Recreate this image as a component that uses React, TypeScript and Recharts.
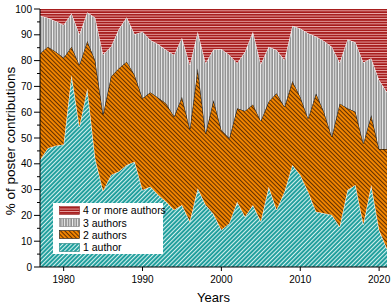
import React from 'react';
import { AreaChart, Area, XAxis, YAxis, Label } from 'recharts';

// share of poster contributions per year (%)
const years = [
    1977, 1978, 1979, 1980, 1981, 1982, 1983, 1984, 1985, 1986, 1987, 1988, 1989, 1990, 1991,
    1992, 1993, 1994, 1995, 1996, 1997, 1998, 1999, 2000, 2001, 2002, 2003, 2004, 2005, 2006,
    2007, 2008, 2009, 2010, 2011, 2012, 2013, 2014, 2015, 2016, 2017, 2018, 2019, 2020, 2021,
];
const oneAuthor = [
    41.5, 46, 47, 47.5, 74.4, 54.4, 69.2, 42, 29.5, 35.7, 37, 39.5, 40.8, 29.8, 31.1,
    27.9, 25.3, 22.1, 24, 17.6, 30.5, 24, 20.5, 14.3, 16.9, 25.3, 19.5, 24, 17.6, 31.1,
    22.1, 29.2, 39.5, 35.7, 29.2, 21.4, 20.8, 20.2, 15.6, 29.8, 31.8, 16.5, 31.8, 14.3, 7,
];
const twoAuthors = [
    41.3, 39.4, 36.4, 33.6, 11, 23.9, 18.4, 38, 29.7, 38.1, 40, 40.1, 33.6, 35.6, 36.6,
    37.7, 38.1, 36.2, 42, 35.9, 46.5, 27.8, 44.2, 38.8, 33, 36.2, 41, 39, 39, 33,
    45.2, 32.9, 32.6, 30.3, 28.4, 45.9, 39.4, 30.3, 47.8, 31.7, 28.4, 31.4, 27.1, 31.4, 38.7,
];
const threeAuthors = [
    14.6, 11.2, 11.9, 12.7, 12.9, 11.9, 11.1, 16.6, 23.2, 11.6, 15.2, 17.2, 15.8, 25.8, 20.3,
    20.7, 20.7, 23.9, 22.9, 24.8, 14.2, 27.2, 19.6, 31.4, 32.3, 17.5, 22.9, 28.2, 22, 21.3,
    16.8, 18.1, 21.4, 26.4, 33, 22, 27.4, 34.9, 15.9, 26.7, 26.9, 31.4, 22, 26.8, 22,
];
const fourPlusAuthors = [
    2.6, 3.4, 4.7, 6.2, 1.7, 9.8, 1.3, 3.4, 17.6, 14.6, 7.8, 3.2, 9.8, 8.8, 12,
    13.7, 15.9, 17.8, 11.1, 21.7, 8.8, 21, 15.7, 15.5, 17.8, 21, 16.6, 8.8, 21.4, 14.6,
    15.9, 19.8, 6.5, 7.6, 9.4, 10.7, 12.4, 14.6, 20.7, 11.8, 12.9, 20.7, 19.1, 27.5, 32.3,
];
const xTicks = [1980, 1990, 2000, 2010, 2020];
const yTicks = [0, 5, 10, 15, 20, 25, 30, 35, 40, 45, 50, 55, 60, 65, 70, 75, 80, 85, 90, 95, 100];

const data = years.map((year, i) => ({
    year,
    one: oneAuthor[i],
    two: twoAuthors[i],
    three: threeAuthors[i],
    four: fourPlusAuthors[i],
}));

const font = '"Liberation Sans", Arial, sans-serif';

// bottom to top
const series = [
    { key: 'one', name: '1 author', fill: 'url(#hatchTeal)', stroke: '#ffffff', swatchStroke: '#1b7f7c' },
    { key: 'two', name: '2 authors', fill: 'url(#hatchOrange)', stroke: '#111111', swatchStroke: '#111111' },
    { key: 'three', name: '3 authors', fill: 'url(#hatchGrey)', stroke: '#ffffff', swatchStroke: '#777777' },
    { key: 'four', name: '4 or more authors', fill: 'url(#hatchRed)', stroke: 'none', swatchStroke: '#8a1515' },
];

function YTick(props: any) {
    const { x, y, payload } = props;
    const major = payload.value % 10 === 0;
    return (
        <g>
            <line x1={x + (major ? 2 : 5)} x2={x + 8} y1={y} y2={y} stroke="#000" strokeWidth={1} />
            {major && (
                <text x={x} y={y} dy={3.6} textAnchor="end" fontSize={10} fill="#000" fontFamily={font}>
                    {payload.value}
                </text>
            )}
        </g>
    );
}

function YTitle(props: any) {
    const vb = props.viewBox;
    const cx = vb.x + 10;
    const cy = vb.y + vb.height / 2 + 3;
    return (
        <text x={cx} y={cy} transform={`rotate(-90 ${cx} ${cy})`} textAnchor="middle" dominantBaseline="central"
            fontSize={13.5} fill="#000" fontFamily={font}>
            % of poster contributions
        </text>
    );
}

export default function App() {
    return (
        <div style={{ position: 'absolute', left: 0, top: 0, width: 392, height: 307, background: '#fff' }}>
            <AreaChart width={392} height={307} data={data} margin={{ top: 9, right: 5, left: 0, bottom: 0 }}>
                <defs>
                    <pattern id="hatchTeal" patternUnits="userSpaceOnUse" width="3" height="3" patternTransform="rotate(45)">
                        <rect width="3" height="3" fill="#1a9c9a" />
                        <rect width="1.1" height="3" fill="#d4f0ee" />
                    </pattern>
                    <pattern id="hatchOrange" patternUnits="userSpaceOnUse" width="3" height="3" patternTransform="rotate(-45)">
                        <rect width="3" height="3" fill="#f08400" />
                        <rect width="0.85" height="3" fill="#4a2100" />
                    </pattern>
                    <pattern id="hatchGrey" patternUnits="userSpaceOnUse" width="2.6" height="3">
                        <rect width="2.6" height="3" fill="#8f8f8f" />
                        <rect width="1" height="3" fill="#f2f2f2" />
                    </pattern>
                    <pattern id="hatchRed" patternUnits="userSpaceOnUse" width="3" height="2.6">
                        <rect width="3" height="2.6" fill="#a51a1a" />
                        <rect width="3" height="0.9" fill="#eeb0b0" />
                    </pattern>
                </defs>
                <XAxis
                    dataKey="year"
                    type="number"
                    domain={[1977, 2021]}
                    ticks={xTicks}
                    allowDataOverflow
                    height={40}
                    tickSize={4}
                    tickMargin={5}
                    stroke="#000"
                    tick={{ fill: '#000', fontSize: 10, fontFamily: font }}
                >
                    <Label value="Years" position="insideBottom" offset={5} style={{ fill: '#000', fontSize: 13, fontFamily: font }} />
                </XAxis>
                <YAxis
                    type="number"
                    domain={[0, 100]}
                    ticks={yTicks}
                    interval={0}
                    width={40}
                    tickSize={6}
                    tickMargin={2}
                    tickLine={false}
                    stroke="#000"
                    tick={<YTick />}
                    label={<Label content={<YTitle />} />}
                />
                {series.map(s => (
                    <Area
                        key={s.key}
                        type="linear"
                        dataKey={s.key}
                        name={s.name}
                        stackId="1"
                        fill={s.fill}
                        fillOpacity={1}
                        stroke={s.stroke}
                        strokeWidth={1}
                        dot={false}
                        activeDot={false}
                        isAnimationActive={false}
                    />
                ))}
            </AreaChart>
            <div style={{
                position: 'absolute', left: 53, top: 203, width: 110, height: 51, background: '#fff',
                boxSizing: 'border-box', padding: '1px 0 0 6px', fontFamily: font, fontSize: 10.5, color: '#000',
            }}>
                {[...series].reverse().map(s => (
                    <div key={s.key} style={{ display: 'flex', alignItems: 'center', height: 12.4, whiteSpace: 'nowrap' }}>
                        <svg width={21} height={9} style={{ marginRight: 3, flex: 'none' }}>
                            <rect x={0.5} y={0.5} width={20} height={8} fill={s.fill} stroke={s.swatchStroke} strokeWidth={0.6} />
                        </svg>
                        <span>{s.name}</span>
                    </div>
                ))}
            </div>
        </div>
    );
}
